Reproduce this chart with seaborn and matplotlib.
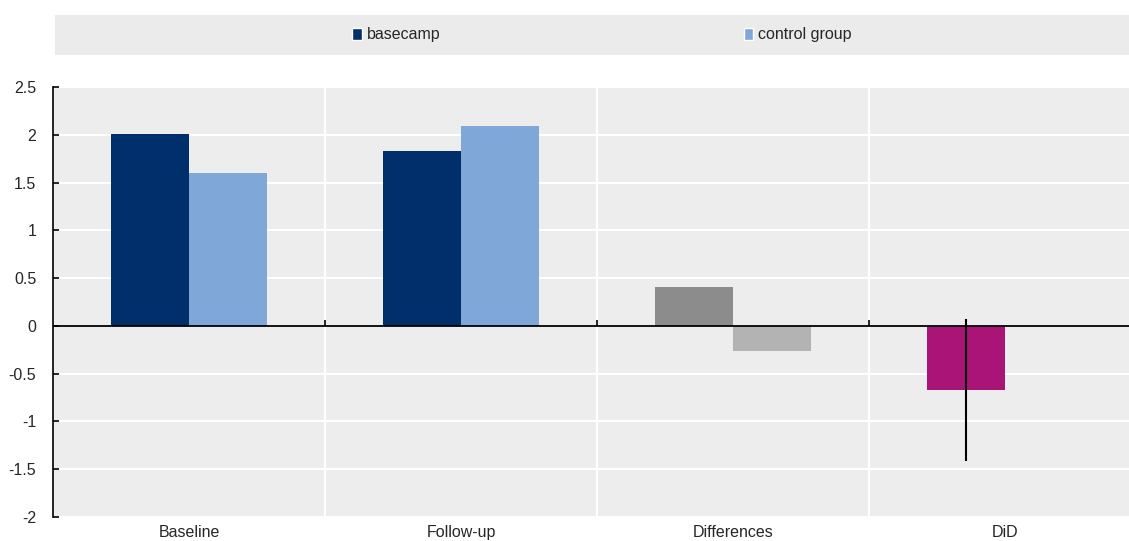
import numpy as np
import pandas as pd
import seaborn as sns
import matplotlib.pyplot as plt
from matplotlib.patches import Rectangle

categories = ["Baseline", "Follow-up", "Differences", "DiD"]
series = ["basecamp", "control group"]
basecamp = [2.01, 1.83, 0.41, -0.67]
control = [1.60, 2.09, -0.26, np.nan]
did_err = 0.74

navy = "#002f6b"
light_blue = "#7fa8d9"
# per-category overrides for the bar colours (Differences in greys, DiD in magenta)
bar_colors = {
    ("Differences", "basecamp"): "#8c8c8c",
    ("Differences", "control group"): "#b3b3b3",
    ("DiD", "basecamp"): "#ab1477",
}

df = pd.DataFrame({
    "category": categories * 2,
    "series": ["basecamp"] * 4 + ["control group"] * 4,
    "value": basecamp + control,
})

sns.set_style("white")
plt.rcParams["font.family"] = ["Liberation Sans Narrow", "Liberation Sans", "DejaVu Sans"]

fig = plt.figure(figsize=(11.29, 5.41), dpi=100)
ax = fig.add_axes([53 / 1129, 24 / 541, (1141 - 53) / 1129, 430 / 541])
ax.set_facecolor("#ededed")

sns.barplot(data=df, x="category", y="value", hue="series", order=categories,
            hue_order=series, palette=[navy, light_blue], width=0.575, gap=0,
            saturation=1, ax=ax, legend=True)

# recolour the special bars
for cont, s in zip(ax.containers, series):
    for patch, cat in zip(cont.patches, categories):
        if (cat, s) in bar_colors:
            patch.set_facecolor(bar_colors[(cat, s)])
        patch.set_edgecolor("none")

# DiD error bar on its bar
did_patch = ax.containers[0].patches[3]
xc = did_patch.get_x() + did_patch.get_width() / 2
ax.errorbar([xc], [basecamp[3]], yerr=[did_err], fmt="none", ecolor="black",
            elinewidth=1.5, capsize=0, zorder=5)

ax.set_ylim(-2, 2.5)
ax.set_xlim(-0.5, 3.5)
ax.set_yticks(np.arange(-2, 2.51, 0.5))
ax.set_yticklabels(["-2", "-1.5", "-1", "-0.5", "0", "0.5", "1", "1.5", "2", "2.5"])
ax.set_xticks(range(4))
ax.set_xticks([0.5, 1.5, 2.5], minor=True)
ax.grid(True, axis="y", color="white", lw=1.5)
ax.grid(True, axis="x", which="minor", color="white", lw=1.5)
ax.grid(False, axis="x", which="major")
ax.set_axisbelow(True)
ax.tick_params(axis="y", direction="in", length=4, width=1.2, color="black",
               left=True, pad=12, labelsize=11.5)
ax.tick_params(axis="x", which="both", length=0, pad=6, labelsize=11.5)
ax.set_xlabel("")
ax.set_ylabel("")

for side in ["top", "right", "bottom"]:
    ax.spines[side].set_visible(False)
ax.spines["left"].set_color("black")
ax.spines["left"].set_linewidth(1.2)

ax.axhline(0, color="black", lw=1.3, zorder=4)
ax.vlines([0.5, 1.5, 2.5], 0, 0.06, color="black", lw=1.2, zorder=4)

# legend band at top
handles, labels = ax.get_legend_handles_labels()
ax.get_legend().remove()
fig.patches.append(Rectangle((55 / 1129, (541 - 55) / 541), 1.0, 40 / 541,
                             transform=fig.transFigure, facecolor="#ebebeb",
                             edgecolor="none", zorder=0))
fig.legend(handles, labels, loc="center", bbox_to_anchor=(602 / 1129, (541 - 35) / 541),
           ncol=2, frameon=False, handlelength=0.6, handleheight=0.8,
           handletextpad=0.3, columnspacing=19, fontsize=11.5)

fig.savefig("out.png", dpi=100)
